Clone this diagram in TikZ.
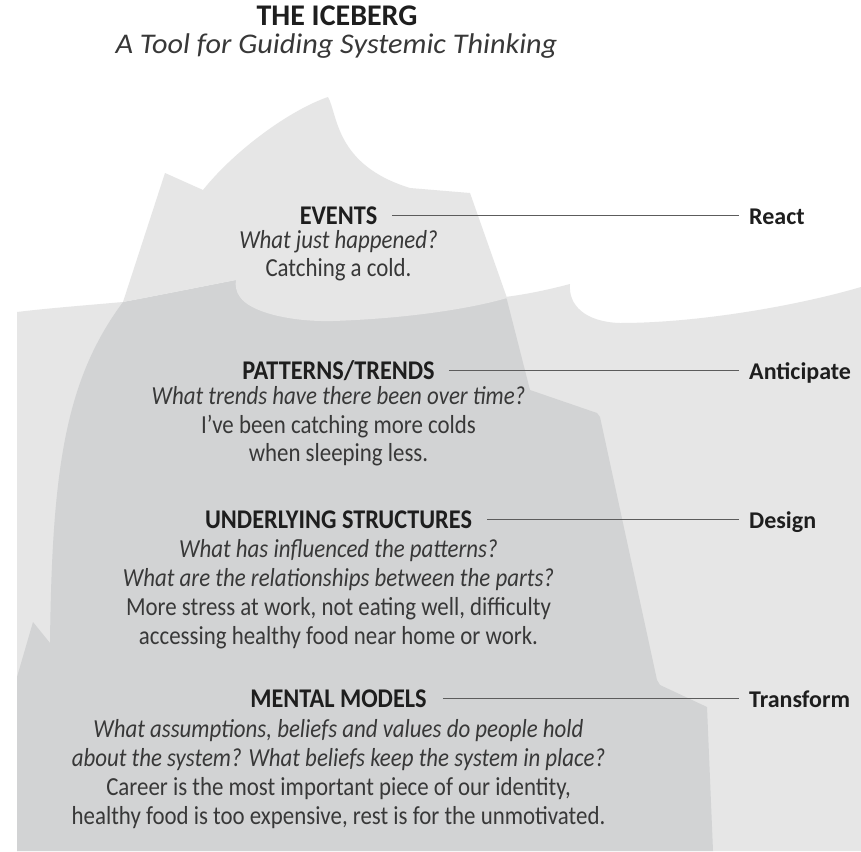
\documentclass[tikz,border=0pt]{standalone}
\usepackage{fontspec}
\setmainfont{Carlito}
\newfontfamily\bodyf[FakeStretch=0.88]{Carlito}
\newfontfamily\headf[FakeStretch=0.90]{Carlito}
\newfontfamily\titlef{Carlito}
\newfontfamily\subf[FakeStretch=1.06]{Carlito}
\definecolor{ice}{HTML}{E6E6E6}
\definecolor{deep}{HTML}{D2D3D4}
\definecolor{ink}{HTML}{1E1E1E}
\definecolor{bodyink}{HTML}{383838}
\definecolor{rulegray}{HTML}{5C5C5C}
\tikzset{
  titleA/.style={font=\titlef\bfseries\fontsize{30}{32}\selectfont, text=ink, inner sep=0pt, text depth=0pt, anchor=base},
  titleB/.style={font=\subf\itshape\fontsize{28.5}{30}\selectfont, text=bodyink, inner sep=0pt, text height=18pt, anchor=base},
  head/.style={font=\headf\bfseries\fontsize{27}{29}\selectfont, text=ink, inner sep=0pt, text height=17pt, text depth=0pt, anchor=base},
  lab/.style={font=\titlef\bfseries\fontsize{24}{26}\selectfont, text=ink, inner sep=0pt, text height=17pt, text depth=0pt, anchor=base west},
  qline/.style={font=\bodyf\itshape\fontsize{26}{28}\selectfont, text=bodyink, inner sep=0pt, anchor=base},
  dline/.style={font=\bodyf\fontsize{26}{28}\selectfont, text=bodyink, inner sep=0pt, anchor=base},
  conn/.style={draw=rulegray, line width=1.6pt}
}
\begin{document}
\begin{tikzpicture}[x=1pt,y=-1pt]
\useasboundingbox (0,0) rectangle (861,851);
\fill[white] (0,0) rectangle (861,851);
% water
\fill[ice] (17,312) .. controls (50,308) and (90,305) .. (123,302)
  .. controls (160,295) and (200,287) .. (236,280) -- (505,297)
  .. controls (530,294) and (555,288) .. (570,284)
  .. controls (568,305) and (585,322) .. (620,323)
  .. controls (700,323) and (800,305) .. (861,287)
  -- (861,851) -- (17,851) -- cycle;
% underwater iceberg
\fill[deep] (123,302) .. controls (160,295) and (200,287) .. (236,280)
  -- (505,296) -- (507,300) -- (530,390) -- (597,413) -- (600,417)
  -- (657,680) -- (660,685) -- (707,707) -- (713,851) -- (17,851)
  -- (17,677) -- (33,622) -- (50,643)
  .. controls (52,470) and (65,380) .. (123,302) -- cycle;
% above-water iceberg
\fill[ice] (123,302) -- (165,173) -- (203,190)
  .. controls (235,150) and (290,110) .. (328,97)
  .. controls (338,115) and (335,165) .. (410,188) -- (470,193) -- (507,298)
  .. controls (480,306) and (420,318) .. (333,321)
  .. controls (290,322) and (250,312) .. (240,297)
  .. controls (236,292) and (235,285) .. (236,280)
  .. controls (200,287) and (160,295) .. (123,302) -- cycle;
% title
\node[titleA] (title) at (337,26) {THE ICEBERG};
\node[titleB] (subtitle) at (336.5,54) {A Tool for Guiding Systemic Thinking};
% events
\node[head] (evh) at (338.5,224) {EVENTS};
\node[qline] (ev1) at (338.5,248) {What just happened?};
\node[dline] (ev2) at (338.5,276) {Catching a cold.};
\node[lab] (react) at (749,224) {React};
\draw[conn] ([xshift=15pt]evh.east) -- ([xshift=-10pt]react.west);
% patterns
\node[head] (pth) at (338.5,379) {PATTERNS/TRENDS};
\node[qline] (pt1) at (338.5,404) {What trends have there been over time?};
\node[dline] (pt2) at (338.5,433) {I’ve been catching more colds};
\node[dline] (pt3) at (338.5,461) {when sleeping less.};
\node[lab] (antic) at (749,379) {Anticipate};
\draw[conn] ([xshift=14pt]pth.east) -- ([xshift=-10pt]antic.west);
% structures
\node[head] (ush) at (338.5,528) {UNDERLYING STRUCTURES};
\node[qline] (us1) at (338.5,557) {What has influenced the patterns?};
\node[qline] (us2) at (338.5,586) {What are the relationships between the parts?};
\node[dline] (us3) at (338.5,615) {More stress at work, not eating well, difficulty};
\node[dline] (us4) at (338.5,644) {accessing healthy food near home or work.};
\node[lab] (design) at (749,528) {Design};
\draw[conn] ([xshift=15pt]ush.east) -- ([xshift=-10pt]design.west);
% mental models
\node[head] (mmh) at (338.5,707) {MENTAL MODELS};
\node[qline] (mm1) at (338.5,737) {What assumptions, beliefs and values do people hold};
\node[qline] (mm2) at (338.5,766) {about the system? What beliefs keep the system in place?};
\node[dline] (mm3) at (338.5,795) {Career is the most important piece of our identity,};
\node[dline] (mm4) at (338.5,824) {healthy food is too expensive, rest is for the unmotivated.};
\node[lab] (transf) at (749,707) {Transform};
\draw[conn] ([xshift=16pt]mmh.east) -- ([xshift=-10pt]transf.west);
\end{tikzpicture}
\end{document}
